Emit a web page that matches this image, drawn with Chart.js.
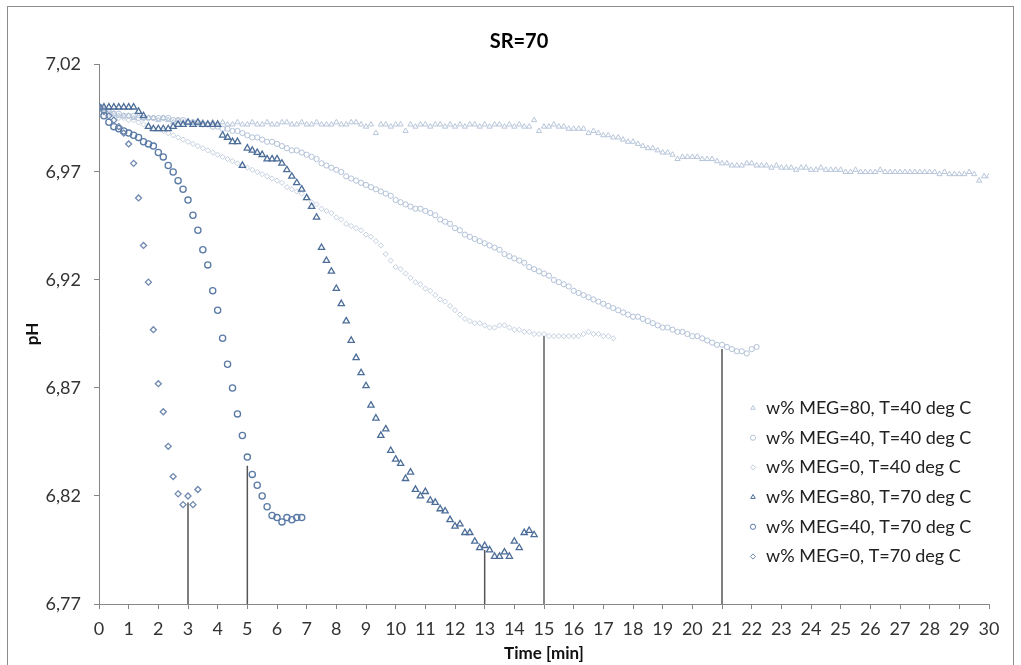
<!DOCTYPE html>
<html>
<head>
<meta charset="utf-8">
<script src="https://cdn.jsdelivr.net/npm/chart.js@4.4.0/dist/chart.umd.min.js"></script>
<style>
  html, body { margin: 0; padding: 0; background: #fff; }
  #wrap { position: relative; width: 1021px; height: 665px; }
</style>
</head>
<body>
<div id="wrap"><canvas id="chart" width="1021" height="665"></canvas></div>
<script>
// logger samples every 10 s
const STEP_MIN = 10 / 60;

const chartTitle = 'SR=70';
const xTitle = 'Time [min]';
const yTitle = 'pH';

const seriesLabels = [
    'w% MEG=80, T=40 deg C',
    'w% MEG=40, T=40 deg C',
    'w% MEG=0, T=40 deg C',
    'w% MEG=80, T=70 deg C',
    'w% MEG=40, T=70 deg C',
    'w% MEG=0, T=70 deg C'
];

const meg80T40 = [
    7.000, 6.999, 6.998, 6.997, 6.996, 6.996,
    6.996, 6.995, 6.996, 6.995, 6.995, 6.995,
    6.994, 6.995, 6.994, 6.993, 6.994, 6.993,
    6.993, 6.993, 6.992, 6.993, 6.992, 6.993,
    6.992, 6.993, 6.992, 6.992, 6.993, 6.992,
    6.992, 6.993, 6.992, 6.992, 6.993, 6.992,
    6.992, 6.993, 6.993, 6.992, 6.992, 6.993,
    6.992, 6.992, 6.993, 6.992, 6.992, 6.992,
    6.993, 6.992, 6.992, 6.993, 6.993, 6.992,
    6.991, 6.992, 6.988, 6.992, 6.992, 6.991,
    6.992, 6.992, 6.989, 6.992, 6.991, 6.992,
    6.992, 6.991, 6.992, 6.992, 6.991, 6.992,
    6.991, 6.992, 6.991, 6.992, 6.992, 6.991,
    6.992, 6.991, 6.992, 6.992, 6.991, 6.992,
    6.991, 6.992, 6.991, 6.991, 6.994, 6.989,
    6.991, 6.991, 6.992, 6.991, 6.991, 6.990,
    6.990, 6.990, 6.990, 6.988, 6.989, 6.988,
    6.987, 6.987, 6.986, 6.986, 6.985, 6.984,
    6.984, 6.983, 6.982, 6.981, 6.981, 6.980,
    6.979, 6.979, 6.978, 6.976, 6.977, 6.977,
    6.977, 6.977, 6.976, 6.976, 6.976, 6.975,
    6.974, 6.974, 6.973, 6.973, 6.973, 6.974,
    6.974, 6.973, 6.973, 6.973, 6.972, 6.973,
    6.972, 6.972, 6.972, 6.971, 6.972, 6.972,
    6.971, 6.971, 6.972, 6.971, 6.971, 6.971,
    6.971, 6.970, 6.970, 6.971, 6.970, 6.970,
    6.970, 6.970, 6.971, 6.970, 6.970, 6.970,
    6.970, 6.970, 6.970, 6.970, 6.970, 6.970,
    6.970, 6.970, 6.969, 6.970, 6.969, 6.969,
    6.969, 6.969, 6.970, 6.969, 6.966, 6.968,
    6.968
];

const meg40T40 = [
    7.000, 6.999, 6.998, 6.997, 6.997, 6.996,
    6.996, 6.996, 6.995, 6.995, 6.995, 6.995,
    6.995, 6.995, 6.995, 6.994, 6.994, 6.994,
    6.993, 6.993, 6.993, 6.992, 6.992, 6.991,
    6.991, 6.990, 6.990, 6.989, 6.989, 6.988,
    6.987, 6.986, 6.986, 6.985, 6.984, 6.984,
    6.983, 6.982, 6.981, 6.980, 6.980, 6.979,
    6.978, 6.977, 6.976, 6.974, 6.973, 6.972,
    6.971, 6.970, 6.968, 6.967, 6.966, 6.965,
    6.964, 6.963, 6.962, 6.961, 6.960, 6.959,
    6.957, 6.956, 6.955, 6.954, 6.953, 6.953,
    6.952, 6.951, 6.950, 6.948, 6.947, 6.946,
    6.944, 6.943, 6.941, 6.940, 6.939, 6.938,
    6.937, 6.936, 6.935, 6.934, 6.932, 6.931,
    6.930, 6.929, 6.928, 6.926, 6.925, 6.924,
    6.923, 6.922, 6.920, 6.919, 6.918, 6.917,
    6.915, 6.914, 6.913, 6.912, 6.911, 6.910,
    6.909, 6.908, 6.907, 6.906, 6.905, 6.904,
    6.903, 6.903, 6.902, 6.901, 6.900, 6.899,
    6.898, 6.898, 6.897, 6.896, 6.896, 6.895,
    6.894, 6.894, 6.893, 6.892, 6.891, 6.890,
    6.890, 6.889, 6.888, 6.887, 6.887, 6.886,
    6.888, 6.889
];

const meg0T40 = [
    7.000, 6.998, 6.997, 6.996, 6.995, 6.995,
    6.994, 6.994, 6.993, 6.992, 6.991, 6.990,
    6.990, 6.989, 6.988, 6.987, 6.986, 6.985,
    6.984, 6.983, 6.982, 6.981, 6.980, 6.979,
    6.978, 6.977, 6.976, 6.975, 6.974, 6.973,
    6.972, 6.971, 6.970, 6.969, 6.968, 6.967,
    6.966, 6.965, 6.963, 6.962, 6.961, 6.960,
    6.958, 6.956, 6.955, 6.953, 6.952, 6.951,
    6.949, 6.948, 6.946, 6.945, 6.944, 6.943,
    6.941, 6.940, 6.938, 6.936, 6.932, 6.929,
    6.926, 6.925, 6.923, 6.921, 6.919, 6.918,
    6.916, 6.915, 6.913, 6.911, 6.910, 6.908,
    6.906, 6.904, 6.902, 6.901, 6.900, 6.900,
    6.899, 6.898, 6.898, 6.899, 6.899, 6.898,
    6.897, 6.897, 6.896, 6.896, 6.895, 6.895,
    6.895, 6.894, 6.894, 6.894, 6.894, 6.894,
    6.894, 6.894, 6.895, 6.896, 6.895, 6.895,
    6.894, 6.894, 6.893
];

const meg80T70 = [
    7.000, 7.000, 7.000, 7.000, 7.000, 7.000,
    7.000, 7.000, 6.998, 6.996, 6.991, 6.990,
    6.990, 6.990, 6.990, 6.991, 6.992, 6.992,
    6.993, 6.992, 6.993, 6.992, 6.992, 6.992,
    6.992, 6.987, 6.986, 6.984, 6.984, 6.973,
    6.981, 6.980, 6.979, 6.978, 6.976, 6.976,
    6.976, 6.974, 6.971, 6.968, 6.965, 6.962,
    6.958, 6.954, 6.949, 6.935, 6.929, 6.924,
    6.916, 6.909, 6.901, 6.892, 6.884, 6.877,
    6.871, 6.862, 6.856, 6.848, 6.851, 6.841,
    6.837, 6.835, 6.828, 6.831, 6.823, 6.820,
    6.822, 6.818, 6.817, 6.814, 6.813, 6.809,
    6.806, 6.807, 6.803, 6.803, 6.799, 6.796,
    6.797, 6.795, 6.792, 6.792, 6.794, 6.792,
    6.799, 6.796, 6.803, 6.804, 6.802
];

const meg40T70 = [
    7.000, 6.996, 6.993, 6.991, 6.990, 6.989,
    6.988, 6.987, 6.986, 6.984, 6.983, 6.982,
    6.979, 6.977, 6.973, 6.970, 6.966, 6.962,
    6.957, 6.950, 6.943, 6.934, 6.927, 6.915,
    6.906, 6.893, 6.881, 6.870, 6.858, 6.848,
    6.838, 6.830, 6.825, 6.820, 6.815, 6.811,
    6.810, 6.808, 6.810, 6.809, 6.810, 6.810
];

const meg0T70 = [
    7.000, 6.998, 6.996, 6.994, 6.991, 6.988,
    6.983, 6.974, 6.958, 6.936, 6.919, 6.897,
    6.872, 6.859, 6.843, 6.829, 6.821, 6.816,
    6.820, 6.816, 6.823
];

// vertical marker lines from the x axis up to the end point of each run
const dropX = [3, 5, 13, 15, 21];
const dropTop = [6.817, 6.834, 6.795, 6.894, 6.888];
const dropColor = ['#555555', '#555555', '#555555', '#111111', '#555555'];

const xTicksMin = 0, xTicksMax = 30;
const yTicksMin = 6.77, yTicksMax = 7.02, yStep = 0.05;

const seriesValues = [meg80T40, meg40T40, meg0T40, meg80T70, meg40T70, meg0T70];
const seriesColors = ['#b7c6da', '#b3c3d8', '#c4d0e0', '#4c6d98', '#5a7aa5', '#6f88af'];
const seriesStyles = ['triangle', 'circle', 'rectRot', 'triangle', 'circle', 'rectRot'];
const seriesRadius = [3, 2.6, 2.6, 3.6, 3.1, 3];

const toPoints = values => values.map((v, i) => ({ x: i * STEP_MIN, y: v }));

const datasets = seriesValues.map((values, i) => ({
    label: seriesLabels[i],
    data: toPoints(values),
    showLine: false,
    pointStyle: seriesStyles[i],
    pointRadius: seriesRadius[i],
    pointBorderColor: seriesColors[i],
    pointBackgroundColor: 'rgba(255,255,255,0)',
    pointBorderWidth: i < 3 ? 1 : 1.3,
    order: 10 - i
}));

dropX.forEach((x, i) => {
    datasets.push({
        label: 'drop' + i,
        data: [{ x: x, y: yTicksMin }, { x: x, y: dropTop[i] }],
        showLine: true,
        borderColor: dropColor[i],
        borderWidth: i === 3 ? 1 : 1.5,
        pointRadius: 0,
        order: 0
    });
});

const textColor = '#333333';
const axisColor = '#868686';

const decorPlugin = {
    id: 'decor',
    beforeDraw(chart) {
        const ctx = chart.ctx;
        ctx.save();
        ctx.fillStyle = '#ffffff';
        ctx.fillRect(0, 0, chart.width, chart.height);
        ctx.strokeStyle = '#8c8c8c';
        ctx.lineWidth = 1;
        ctx.strokeRect(7.5, 6.5, 1006, 700);
        ctx.restore();
    },
    afterDraw(chart) {
        const ctx = chart.ctx;
        ctx.save();
        ctx.fillStyle = '#000000';
        ctx.font = "bold 20px Lato";
        ctx.textAlign = 'center';
        ctx.textBaseline = 'middle';
        ctx.fillText(chartTitle, 519, 42);

        // legend, inside the plot at the lower right
        ctx.font = "18px Lato";
        ctx.textAlign = 'left';
        seriesLabels.forEach((label, i) => {
            const y = 408 + i * 29.7;
            ctx.strokeStyle = seriesColors[i];
            ctx.fillStyle = 'rgba(255,255,255,0)';
            ctx.lineWidth = 1;
            Chart.helpers.drawPoint(ctx, { pointStyle: seriesStyles[i], radius: 2.6, borderWidth: 1, rotation: 0 }, 753, y);
            ctx.fillStyle = '#222222';
            ctx.fillText(label, 766, y);
        });
        ctx.restore();
    }
};

new Chart(document.getElementById('chart'), {
    type: 'scatter',
    data: { datasets },
    plugins: [decorPlugin],
    options: {
        responsive: false,
        animation: false,
        events: [],
        layout: { padding: { top: 64, left: 22, right: 32, bottom: 0 } },
        scales: {
            x: {
                type: 'linear',
                min: xTicksMin,
                max: xTicksMax,
                afterFit: scale => { scale.height = 61; },
                ticks: {
                    stepSize: 1,
                    color: textColor,
                    padding: 9,
                    maxRotation: 0,
                    autoSkip: false,
                    font: { family: 'Lato', size: 18 }
                },
                grid: { drawOnChartArea: false, tickLength: 5, color: axisColor },
                border: { color: axisColor, width: 1 },
                title: {
                    display: true,
                    text: xTitle,
                    color: '#111111',
                    padding: { top: 1, bottom: 1 },
                    font: { family: 'Lato', size: 17, weight: 'bold' }
                }
            },
            y: {
                min: yTicksMin,
                max: yTicksMax,
                afterFit: scale => { scale.width = 77; },
                ticks: {
                    stepSize: yStep,
                    color: textColor,
                    padding: 13,
                    font: { family: 'Lato', size: 18 },
                    callback: value => value.toFixed(2).replace('.', ',')
                },
                grid: { drawOnChartArea: false, tickLength: 5, color: axisColor },
                border: { color: axisColor, width: 1 },
                title: {
                    display: true,
                    text: yTitle,
                    color: '#111111',
                    padding: 0,
                    font: { family: 'Lato', size: 17, weight: 'bold' }
                }
            }
        },
        plugins: {
            legend: { display: false },
            tooltip: { enabled: false },
            title: { display: false }
        }
    }
});
</script>
</body>
</html>
